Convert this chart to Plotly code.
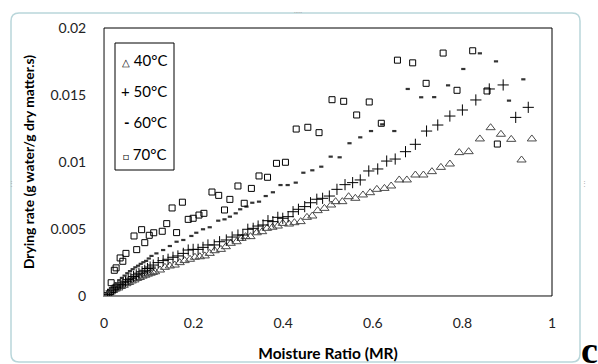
import plotly.graph_objects as go

# ---------------- data ----------------
mr_40 = [0.010, 0.015, 0.020, 0.026, 0.032, 0.038, 0.044, 0.050, 0.056, 0.062, 0.068, 0.074, 0.080,
         0.086, 0.092, 0.098, 0.104, 0.109, 0.114, 0.125, 0.136, 0.147, 0.158, 0.169, 0.180, 0.192,
         0.203, 0.214, 0.225, 0.236, 0.247, 0.261, 0.272, 0.283, 0.296, 0.307, 0.316, 0.327, 0.341,
         0.353, 0.364, 0.376, 0.388, 0.399, 0.413, 0.425, 0.439, 0.453, 0.465, 0.477, 0.492, 0.507,
         0.517, 0.532, 0.546, 0.561, 0.578, 0.594, 0.609, 0.626, 0.641, 0.659, 0.676, 0.695, 0.713,
         0.732, 0.752, 0.772, 0.793, 0.814, 0.839, 0.863, 0.886, 0.909, 0.932, 0.955]
dr_40 = [0.00020, 0.00030, 0.00041, 0.00052, 0.00060, 0.00071, 0.00080, 0.00092, 0.00101, 0.00112,
         0.00120, 0.00131, 0.00138, 0.00148, 0.00155, 0.00163, 0.00170, 0.00176, 0.00181, 0.00194,
         0.00214, 0.00224, 0.00231, 0.00249, 0.00264, 0.00274, 0.00289, 0.00293, 0.00299, 0.00318,
         0.00338, 0.00348, 0.00368, 0.00393, 0.00405, 0.00430, 0.00443, 0.00443, 0.00472, 0.00480,
         0.00505, 0.00513, 0.00522, 0.00542, 0.00537, 0.00547, 0.00555, 0.00587, 0.00597, 0.00637,
         0.00654, 0.00679, 0.00704, 0.00704, 0.00741, 0.00729, 0.00754, 0.00771, 0.00796, 0.00803,
         0.00821, 0.00866, 0.00866, 0.00903, 0.00903, 0.00928, 0.00960, 0.00985, 0.01070, 0.01077,
         0.01172, 0.01256, 0.01207, 0.01169, 0.01015, 0.01172]

mr_50 = [0.008, 0.012, 0.016, 0.021, 0.026, 0.031, 0.036, 0.042, 0.048, 0.054, 0.060, 0.066, 0.072,
         0.078, 0.085, 0.091, 0.097, 0.103, 0.110, 0.121, 0.132, 0.143, 0.154, 0.165, 0.177, 0.188,
         0.199, 0.210, 0.221, 0.232, 0.246, 0.258, 0.273, 0.286, 0.299, 0.310, 0.321, 0.333, 0.344,
         0.355, 0.366, 0.377, 0.388, 0.399, 0.411, 0.422, 0.434, 0.448, 0.461, 0.475, 0.488, 0.503,
         0.520, 0.538, 0.555, 0.572, 0.591, 0.611, 0.631, 0.650, 0.673, 0.695, 0.720, 0.745, 0.772,
         0.800, 0.830, 0.860, 0.891, 0.919, 0.947]
dr_50 = [0.00012, 0.00025, 0.00038, 0.00050, 0.00062, 0.00074, 0.00085, 0.00098, 0.00110, 0.00122,
         0.00133, 0.00146, 0.00158, 0.00170, 0.00181, 0.00192, 0.00205, 0.00216, 0.00231, 0.00249,
         0.00264, 0.00274, 0.00289, 0.00299, 0.00318, 0.00343, 0.00348, 0.00348, 0.00363, 0.00381,
         0.00381, 0.00405, 0.00418, 0.00440, 0.00455, 0.00455, 0.00498, 0.00505, 0.00522, 0.00530,
         0.00562, 0.00555, 0.00587, 0.00580, 0.00592, 0.00629, 0.00647, 0.00667, 0.00696, 0.00722,
         0.00729, 0.00746, 0.00796, 0.00831, 0.00846, 0.00866, 0.00933, 0.00948, 0.01007, 0.01022,
         0.01077, 0.01132, 0.01231, 0.01276, 0.01343, 0.01388, 0.01463, 0.01545, 0.01575, 0.01333,
         0.01408]

mr_60 = [0.010, 0.016, 0.022, 0.028, 0.034, 0.040, 0.046, 0.052, 0.058, 0.064, 0.070, 0.076, 0.082,
         0.088, 0.094, 0.100, 0.106, 0.117, 0.132, 0.147, 0.162, 0.177, 0.195, 0.206, 0.221, 0.236,
         0.255, 0.269, 0.281, 0.294, 0.304, 0.318, 0.331, 0.346, 0.361, 0.377, 0.394, 0.410, 0.428,
         0.445, 0.465, 0.485, 0.506, 0.526, 0.548, 0.572, 0.596, 0.621, 0.648, 0.678, 0.708, 0.737,
         0.768, 0.802, 0.839, 0.875, 0.904, 0.936]
dr_60 = [0.00030, 0.00052, 0.00078, 0.00095, 0.00118, 0.00135, 0.00152, 0.00170, 0.00186, 0.00200,
         0.00214, 0.00226, 0.00240, 0.00252, 0.00262, 0.00280, 0.00299, 0.00318, 0.00343, 0.00373,
         0.00405, 0.00418, 0.00448, 0.00472, 0.00498, 0.00513, 0.00562, 0.00572, 0.00592, 0.00617,
         0.00647, 0.00667, 0.00696, 0.00704, 0.00746, 0.00774, 0.00828, 0.00828, 0.00846, 0.00920,
         0.00938, 0.00965, 0.01040, 0.01035, 0.01140, 0.01184, 0.01231, 0.01281, 0.01231, 0.01545,
         0.01483, 0.01484, 0.01572, 0.01694, 0.01811, 0.01751, 0.01458, 0.01617]

mr_70 = [0.016, 0.023, 0.027, 0.036, 0.042, 0.049, 0.067, 0.073, 0.084, 0.091, 0.101, 0.111, 0.130,
         0.140, 0.152, 0.162, 0.175, 0.188, 0.199, 0.212, 0.223, 0.241, 0.256, 0.269, 0.281, 0.299,
         0.313, 0.329, 0.346, 0.365, 0.385, 0.405, 0.429, 0.455, 0.480, 0.509, 0.535, 0.564, 0.592,
         0.619, 0.655, 0.689, 0.719, 0.757, 0.788, 0.823, 0.855, 0.878]
dr_70 = [0.00099, 0.00192, 0.00210, 0.00284, 0.00259, 0.00318, 0.00448, 0.00346, 0.00495, 0.00398,
         0.00453, 0.00472, 0.00483, 0.00540, 0.00657, 0.00473, 0.00700, 0.00572, 0.00580, 0.00604,
         0.00617, 0.00776, 0.00751, 0.00642, 0.00721, 0.00821, 0.00692, 0.00803, 0.00896, 0.00886,
         0.00990, 0.00998, 0.01246, 0.01259, 0.01219, 0.01465, 0.01453, 0.01351, 0.01448, 0.01289,
         0.01760, 0.01740, 0.01587, 0.01813, 0.01535, 0.01830, 0.01530, 0.01134]

x_ticks = [0, 0.2, 0.4, 0.6, 0.8, 1]
x_tick_text = ["0", "0.2", "0.4", "0.6", "0.8", "1"]
y_ticks = [0, 0.005, 0.01, 0.015, 0.02]
y_tick_text = ["0", "0.005", "0.01", "0.015", "0.02"]
legend_labels = ["40°C", "50°C", "60°C", "70°C"]

FONT = "Lato"

# ---------------- plot area geometry (pixels) ----------------
W, H = 598, 364
L, R, T, B = 104, 552, 28, 296
PW, PH = R - L, B - T


def px(x):
    return (x - L) / PW


def py(y):
    return (B - y) / PH


fig = go.Figure()
fig.add_trace(go.Scatter(x=mr_40, y=dr_40, mode="markers", name=legend_labels[0],
                         marker=dict(symbol="triangle-up-open", size=8, color="#4a4a4a",
                                     line=dict(width=1, color="#4a4a4a"))))
fig.add_trace(go.Scatter(x=mr_50, y=dr_50, mode="markers", name=legend_labels[1],
                         marker=dict(symbol="cross-thin-open", size=8, color="black",
                                     line=dict(width=1, color="black"))))
fig.add_trace(go.Scatter(x=mr_60, y=dr_60, mode="markers", name=legend_labels[2],
                         marker=dict(symbol="line-ew-open", size=3, color="#333333",
                                     line=dict(width=2.2, color="#333333"))))
fig.add_trace(go.Scatter(x=mr_70, y=dr_70, mode="markers", name=legend_labels[3],
                         marker=dict(symbol="square-open", size=6, color="black",
                                     line=dict(width=1, color="black"))))

axis_font = dict(family=FONT, size=14, color="#222222")

fig.update_layout(
    width=W, height=H,
    margin=dict(l=L, r=W - R, t=T, b=H - B, pad=0, autoexpand=False),
    paper_bgcolor="white", plot_bgcolor="white",
    showlegend=False,
    font=dict(family=FONT, size=13, color="black"),
    xaxis=dict(range=[0, 1], tickvals=x_ticks, ticktext=x_tick_text, showgrid=False,
               zeroline=False, showline=True, linecolor="#8a8a8a", linewidth=1, automargin=False,
               ticks="", tickfont=axis_font, ticklabelstandoff=14,
               title=dict(text="<b>Moisture Ratio (MR)</b>", font=dict(family=FONT, size=15.5),
                          standoff=18)),
    yaxis=dict(range=[0, 0.02], tickvals=y_ticks, ticktext=y_tick_text, showgrid=False,
               zeroline=False, showline=True, linecolor="#8a8a8a", linewidth=1, automargin=False,
               ticks="", tickfont=axis_font, ticklabelstandoff=14,
               title=dict(text="<b>Drying rate (g water/g dry matter.s)</b>",
                          font=dict(family=FONT, size=13.8), standoff=12)),
)

# plot-area frame (black top/right)
fig.add_shape(type="rect", xref="paper", yref="paper", x0=0, x1=1, y0=0, y1=1,
              line=dict(color="black", width=1), layer="below")

# outer rounded chart border
x0, x1 = px(11), px(580)
y0, y1 = py(362), py(13)
rx, ry = 8 / PW, 8 / PH
path = (f"M {x0+rx},{y1} L {x1-rx},{y1} Q {x1},{y1} {x1},{y1-ry} "
        f"L {x1},{y0+ry} Q {x1},{y0} {x1-rx},{y0} L {x0+rx},{y0} Q {x0},{y0} {x0},{y0+ry} "
        f"L {x0},{y1-ry} Q {x0},{y1} {x0+rx},{y1} Z")
fig.add_shape(type="path", xref="paper", yref="paper", path=path,
              line=dict(color="#b9d6da", width=1.5), layer="above")

# manual legend box
fig.add_shape(type="rect", xref="paper", yref="paper", x0=px(115), x1=px(174), y0=py(170), y1=py(43),
              line=dict(color="black", width=1), fillcolor="white", layer="above")
leg_symbols = ["<span style='font-size:10px'>△</span>", "+", "<b>-</b>",
               "<span style='font-size:10px'>□</span>"]
leg_y = [60, 91, 122, 154]
for sym, lab, yy in zip(leg_symbols, legend_labels, leg_y):
    fig.add_annotation(xref="paper", yref="paper", x=px(169), y=py(yy), xanchor="right", yanchor="middle",
                       text=f"{sym} {lab}", showarrow=False,
                       font=dict(family=FONT, size=15, color="black"))

# panel letter
fig.add_annotation(xref="paper", yref="paper", x=px(600), y=py(364), xanchor="right", yanchor="bottom",
                   text="<b>c</b>", showarrow=False, yshift=-9,
                   font=dict(family="Liberation Serif", size=38, color="black"))

# selection-handle dots
for (hx, hy, t) in [(298, 4, "....."), (6, 183, "⋮"), (590, 183, "⋮")]:
    fig.add_annotation(xref="paper", yref="paper", x=px(hx), y=py(hy), text=t, showarrow=False,
                       font=dict(family=FONT, size=7, color="#aaaaaa"))

fig.write_html("out.html", post_script="document.body.style.margin='0';",
               config={"displayModeBar": False})
